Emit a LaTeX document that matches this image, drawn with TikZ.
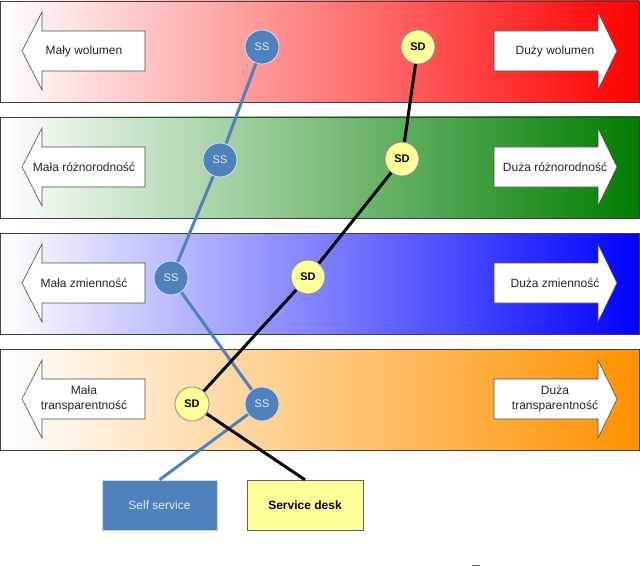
\documentclass[tikz,border=0pt]{standalone}
\usepackage{fontspec}
\setmainfont{Liberation Sans}
\definecolor{ssblue}{RGB}{79,129,189}
\definecolor{sdyellow}{RGB}{255,255,153}
\definecolor{bandgreen}{RGB}{0,125,0}
\definecolor{bandorange}{RGB}{255,145,0}
\begin{document}
\begin{tikzpicture}[x=1pt,y=-1pt,
  bandframe/.style={draw=black!75, line width=0.8pt},
  arrowshape/.style={fill=white, draw=black!70, line width=0.6pt},
  lbl/.style={font=\fontsize{12}{15}\selectfont, align=center, text=black!85, inner sep=0pt},
  ssnode/.style={circle, fill=ssblue, draw=white!75!ssblue, line width=0.8pt, minimum size=34pt, inner sep=0pt, text=white!85!ssblue, font=\fontsize{11}{13}\selectfont},
  sdnode/.style={circle, fill=sdyellow, draw=black!45, line width=0.8pt, minimum size=34pt, inner sep=0pt, text=black, font=\fontsize{11}{13}\selectfont\bfseries},
  ssline/.style={draw=ssblue, line width=3pt},
  sdline/.style={draw=black, line width=3pt}]
\useasboundingbox (0,0) rectangle (640,567);
\foreach \t/\c in {1/red, 117/bandgreen, 233/blue, 349/bandorange}{
  \shade[left color=white, right color=\c] (0.5,\t) rectangle (639.5,\t+101);
  \draw[bandframe] (0.5,\t) rectangle (639.5,\t+101);
  \draw[arrowshape] (22,\t+50) -- (42,\t+11) -- (42,\t+30) -- (145,\t+30) -- (145,\t+70) -- (42,\t+70) -- (42,\t+89) -- cycle;
  \draw[arrowshape] (494,\t+30) -- (598,\t+30) -- (598,\t+11) -- (617,\t+50) -- (598,\t+89) -- (598,\t+70) -- (494,\t+70) -- cycle;
}
% arrow labels
\node[lbl] (l1) at (84,51) {Mały wolumen};
\node[lbl] (r1) at (555,51) {Duży wolumen};
\node[lbl] (l2) at (84,167) {Mała różnorodność};
\node[lbl] (r2) at (555,167) {Duża różnorodność};
\node[lbl] (l3) at (84,283) {Mała zmienność};
\node[lbl] (r3) at (555,283) {Duża zmienność};
\node[lbl] (l4) at (84,399) {Mała\\transparentność};
\node[lbl] (r4) at (555,399) {Duża\\transparentność};
% bottom boxes
\node[draw=white!70!ssblue, fill=ssblue, minimum width=115pt, minimum height=50pt, inner sep=0pt, text=white!85!ssblue, font=\fontsize{12}{15}\selectfont] (selfs) at (159.5,505) {Self service};
\node[draw=black!60, fill=sdyellow, minimum width=116pt, minimum height=50pt, inner sep=0pt, text=black, font=\fontsize{12}{15}\selectfont\bfseries] (sdesk) at (305,505) {Service desk};
% circles positions
\coordinate (pss1) at (262,47);
\coordinate (psd1) at (418,47);
\coordinate (pss2) at (220,160);
\coordinate (psd2) at (402,159);
\coordinate (pss3) at (171,278);
\coordinate (psd3) at (308,277);
\coordinate (psd4) at (192,404);
\coordinate (pss4) at (262,404);
% connectors
\draw[ssline] (pss1) -- (pss2) -- (pss3) -- (pss4) -- (selfs.north);
\draw[sdline] (psd1) -- (psd2) -- (psd3) -- (psd4) -- (sdesk.north);
% circles
\node[ssnode] (ss1) at (pss1) {SS};
\node[sdnode] (sd1) at (psd1) {SD};
\node[ssnode] (ss2) at (pss2) {SS};
\node[sdnode] (sd2) at (psd2) {SD};
\node[ssnode] (ss3) at (pss3) {SS};
\node[sdnode] (sd3) at (psd3) {SD};
\node[sdnode] (sd4) at (psd4) {SD};
\node[ssnode] (ss4) at (pss4) {SS};
% small mark
\draw[black!60, line width=0.8pt] (472,565.5) -- (480,565.5);
\end{tikzpicture}
\end{document}
